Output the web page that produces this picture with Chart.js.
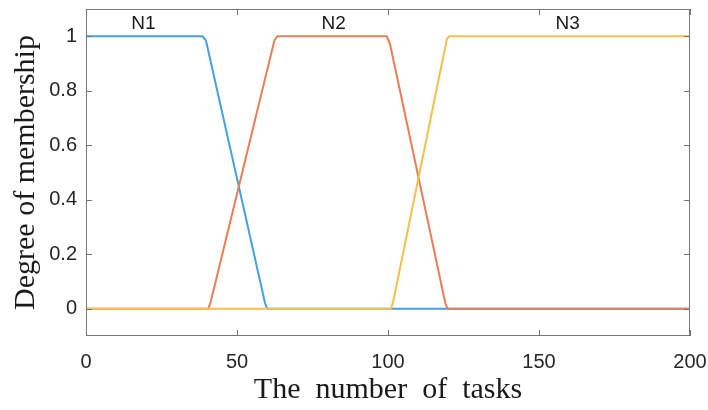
<!DOCTYPE html>
<html>
<head>
<meta charset="utf-8">
<script src="https://cdn.jsdelivr.net/npm/chart.js@4.4.0/dist/chart.umd.min.js"></script>
<style>
html,body{margin:0;padding:0;background:#fff;}
#wrap{width:708px;height:410px;}
</style>
</head>
<body>
<div id="wrap"><canvas id="c" width="708" height="410"></canvas></div>
<script>
// ---- data ----
const seriesNames = ["N1", "N2", "N3"];
const n1X = [0, 38.5, 39.7, 59.3, 60, 200];
const n1Y = [1, 1, 0.985, 0.02, 0, 0];
const n2X = [0, 40.5, 41.4, 62.4, 63.4, 99.6, 100.7, 119, 119.7, 200];
const n2Y = [0, 0, 0.03, 0.985, 1, 1, 0.97, 0.02, 0, 0];
const n3X = [0, 101, 101.8, 119.5, 120.3, 200];
const n3Y = [0, 0, 0.03, 0.99, 1, 1];
const labelX = [19, 82, 159.5];
const labelY = [1.044, 1.044, 1.044];
const xTicks = [0, 50, 100, 150, 200];
const xTickLabels = ["0", "50", "100", "150", "200"];
const yTicks = [0, 0.2, 0.4, 0.6, 0.8, 1];
const yTickLabels = ["0", "0.2", "0.4", "0.6", "0.8", "1"];
const xTitle = "The  number  of  tasks";
const yTitle = "Degree of membership";

const colors = ["#47a0e0", "#ea7d55", "#f4c04a"];
const toPts = (xs, ys) => xs.map((x, i) => ({x: x, y: ys[i]}));

const frame = {
  id: 'frame',
  afterDraw(chart) {
    const ctx = chart.ctx, a = chart.chartArea;
    const xs = chart.scales.x, ys = chart.scales.y;
    ctx.save();
    ctx.strokeStyle = '#767676';
    ctx.lineWidth = 1;
    ctx.strokeRect(Math.round(a.left) + 0.5, Math.round(a.top) + 0.5,
                   Math.round(a.right - a.left) - 1, Math.round(a.bottom - a.top) - 1);
    const L = 6;
    ctx.beginPath();
    xTicks.forEach(v => {
      const px = Math.round(xs.getPixelForValue(v)) + 0.5;
      ctx.moveTo(px, a.bottom); ctx.lineTo(px, a.bottom - L);
      ctx.moveTo(px, a.top); ctx.lineTo(px, a.top + L);
    });
    yTicks.forEach(v => {
      const py = Math.round(ys.getPixelForValue(v)) + 0.5;
      ctx.moveTo(a.left, py); ctx.lineTo(a.left + L, py);
      ctx.moveTo(a.right, py); ctx.lineTo(a.right - L, py);
    });
    ctx.stroke();
    // series labels
    ctx.fillStyle = '#1a1a1a';
    ctx.font = '19px "Liberation Sans", Arial, sans-serif';
    ctx.textAlign = 'center';
    ctx.textBaseline = 'middle';
    seriesNames.forEach((n, i) => {
      ctx.fillText(n, xs.getPixelForValue(labelX[i]), ys.getPixelForValue(labelY[i]));
    });
    ctx.restore();
  }
};

new Chart(document.getElementById('c'), {
  type: 'line',
  data: {
    datasets: [
      {label: seriesNames[0], data: toPts(n1X, n1Y), borderColor: colors[0], order: 2},
      {label: seriesNames[1], data: toPts(n2X, n2Y), borderColor: colors[1], order: 1},
      {label: seriesNames[2], data: toPts(n3X, n3Y), borderColor: colors[2], order: 0}
    ].map(d => Object.assign(d, {borderWidth: 2, pointRadius: 0, tension: 0, fill: false,
                                  borderJoinStyle: 'round', borderCapStyle: 'butt'}))
  },
  options: {
    responsive: false,
    animation: false,
    layout: {padding: {top: 9, right: 18, left: 0, bottom: 0}},
    plugins: {legend: {display: false}, tooltip: {enabled: false}},
    scales: {
      x: {
        type: 'linear', min: 0, max: 200,
        afterBuildTicks: s => { s.ticks = xTicks.map(v => ({value: v})); },
        afterFit: s => { s.height = 74; s.paddingLeft = 0; s.paddingRight = 0; },
        grid: {display: false, drawTicks: false},
        border: {display: false},
        ticks: {
          color: '#262626', padding: 14,
          font: {family: '"Liberation Sans", Arial, sans-serif', size: 20},
          callback: (v, i) => xTickLabels[i]
        },
        title: {
          display: true, text: xTitle, color: '#1a1a1a',
          font: {family: '"Liberation Serif", "Times New Roman", serif', size: 30},
          padding: {top: 0, bottom: 2}
        }
      },
      y: {
        type: 'linear', min: -0.1, max: 1.1,
        afterBuildTicks: s => { s.ticks = yTicks.map(v => ({value: v})); },
        afterFit: s => { s.width = 86; s.paddingTop = 0; s.paddingBottom = 0; },
        grid: {display: false, drawTicks: false},
        border: {display: false},
        ticks: {
          color: '#262626', padding: 9,
          font: {family: '"Liberation Sans", Arial, sans-serif', size: 20},
          callback: (v, i) => yTickLabels[i]
        },
        title: {
          display: true, text: yTitle, color: '#1a1a1a',
          font: {family: '"Liberation Serif", "Times New Roman", serif', size: 30},
          padding: {top: 8, bottom: 0}
        }
      }
    }
  },
  plugins: [frame]
});
</script>
</body>
</html>
